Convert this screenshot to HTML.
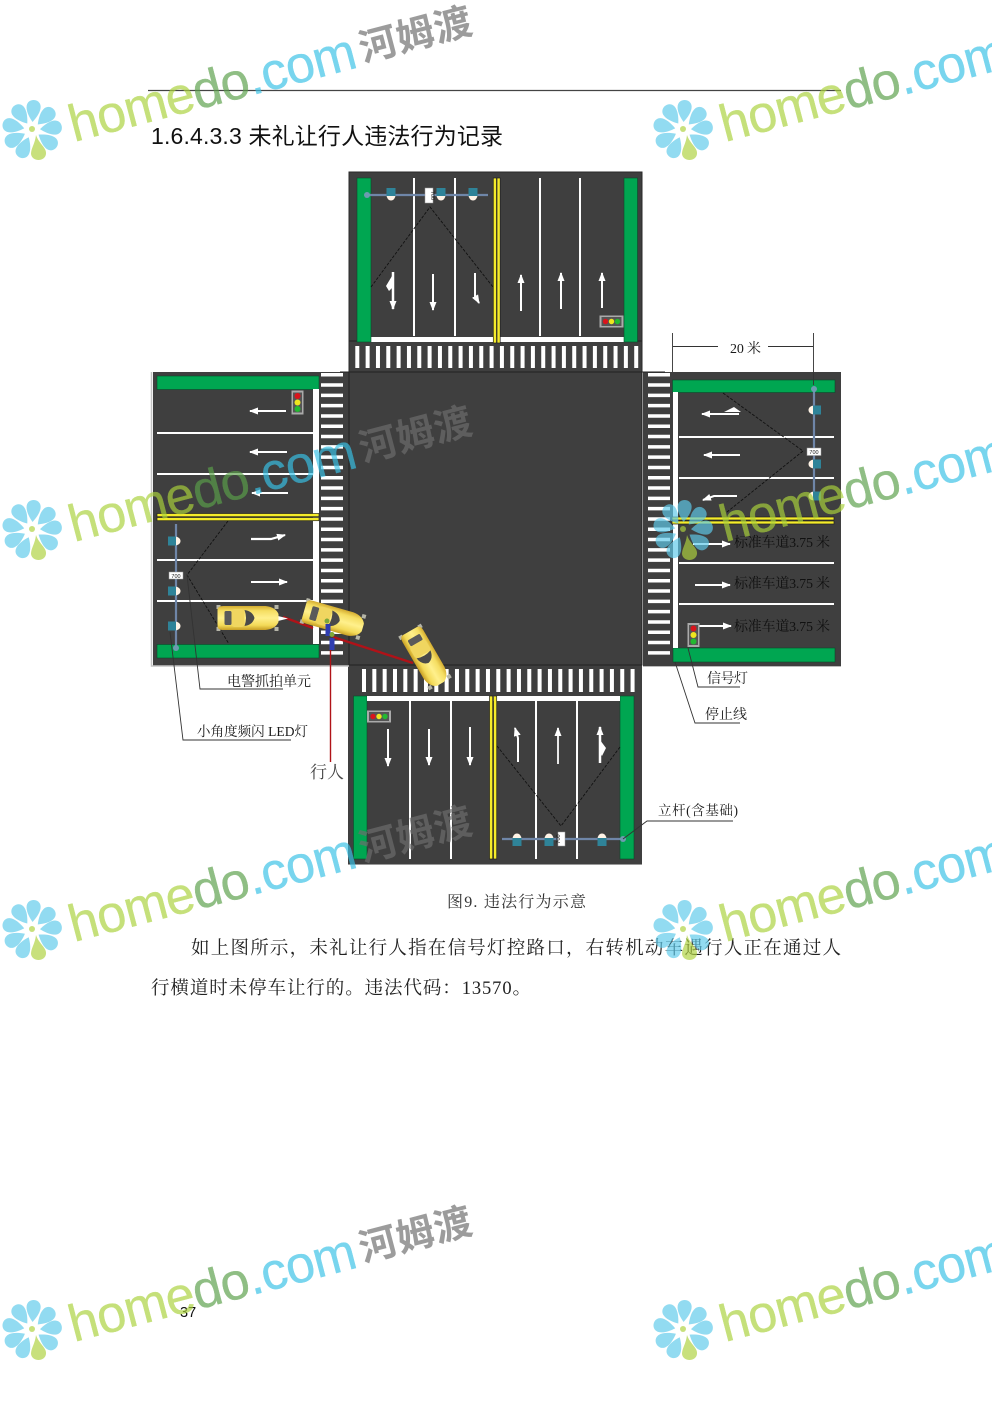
<!DOCTYPE html>
<html lang="zh"><head><meta charset="utf-8"><title>未礼让行人违法行为记录</title>
<style>
html,body{margin:0;padding:0;background:#fff}
svg{display:block}
.s{font-family:"Liberation Serif","Noto Serif CJK SC",serif;fill:#1a1a1a}
.h{font-family:"Liberation Sans","Noto Sans CJK SC",sans-serif;fill:#111}
.wm{font-family:"Liberation Sans",sans-serif;font-size:52px;stroke-width:.4}
.wm .l{fill:#aad23c;stroke:#aad23c}
.wm .g{fill:#5ba04a;stroke:#5ba04a}
.wm .c{fill:#38c1e6;stroke:#38c1e6}
.wc{font-family:"Liberation Sans","Noto Sans CJK SC",sans-serif;font-size:38px;font-weight:700;fill:#6e6e6e}
</style></head><body>
<svg xmlns="http://www.w3.org/2000/svg" width="992" height="1403" viewBox="0 0 992 1403">
<defs>
<marker id="a" viewBox="0 0 9 7" markerUnits="userSpaceOnUse" markerWidth="9" markerHeight="7" refX="8" refY="3.5" orient="auto"><path d="M0 0L9 3.5L0 7Z" fill="#fff"/></marker>
<linearGradient id="cg" x1="0" y1="0" x2="0" y2="1"><stop offset="0" stop-color="#d4ac30"/><stop offset=".2" stop-color="#f5de62"/><stop offset=".5" stop-color="#fff08c"/><stop offset=".8" stop-color="#f3da58"/><stop offset="1" stop-color="#c79e24"/></linearGradient>
<g id="car">
<g fill="#b5b5a8"><rect x="-31" y="-13" width="4" height="4"/><rect x="27" y="-13" width="4" height="4"/><rect x="-31" y="9" width="4" height="4"/><rect x="27" y="9" width="4" height="4"/></g>
<path d="M-30-8Q-30-12-24-12H18Q28-11 31-4V4Q28 11 18 12H-24Q-30 12-30 8Z" fill="url(#cg)"/>
<rect x="-23" y="-7" width="7" height="14" rx="1.500" fill="#5a5a5a"/>
<path d="M-3-8Q5-7 7 0Q5 7-3 8Q0 0-3-8Z" fill="#4a4a4a"/>
<rect x="-16" y="-9" width="13" height="18" rx="3" fill="#f0d660"/>
</g>
<g id="lamp"><path d="M-4.500 0a4.500 5.500 0 0 0 9 0Z" fill="#fff3e6"/><rect x="-4.500" y="-7" width="9" height="8" fill="#2f8398"/></g>
<g id="tlh"><rect x="-12" y="-6" width="24" height="12" fill="#aaa"/><rect x="-10" y="-4.500" width="20" height="9" fill="#555"/><circle cx="-6" r="2.700" fill="#d9141c"/><circle r="2.700" fill="#efe51f"/><circle cx="6" r="2.700" fill="#23b931"/></g>
<g id="tlv"><rect x="-6" y="-12" width="12" height="24" fill="#aaa"/><rect x="-4.500" y="-10" width="9" height="20" fill="#555"/><circle cy="-6.500" r="3" fill="#d9141c"/><circle r="3" fill="#efe51f"/><circle cy="6.500" r="3" fill="#23b931"/></g>
<path id="pt" d="M0-8C-4-13-7.500-19-7-24C-6-32 6-32 7-24C7.500-19 4-13 0-8Z"/>
<g id="fl">
<g fill="#5fcbea">
<use href="#pt" transform="rotate(4)"/><use href="#pt" transform="rotate(46)"/><use href="#pt" transform="rotate(84)"/><use href="#pt" transform="rotate(125)"/><use href="#pt" transform="rotate(204)"/><use href="#pt" transform="rotate(242)"/><use href="#pt" transform="rotate(282)"/><use href="#pt" transform="rotate(324)"/>
</g>
<path d="M4 5C7 14 15 18 14 24C13 32 0 32-1 24C-1 18 3 14 4 5Z" fill="#aed23f"/>
<circle cx="0" cy="-1" r="3" fill="#aed23f"/>
</g>
</defs>

<rect width="992" height="1403" fill="#fff"/>
<line x1="148" y1="90.500" x2="841" y2="90.500" stroke="#444" stroke-width="1.200"/>
<text class="h" x="151" y="144" font-size="23" textLength="352" lengthAdjust="spacing">1.6.4.3.3 未礼让行人违法行为记录</text>

<!-- roads -->
<rect x="349" y="172" width="293" height="200" fill="#3f3f3f" stroke="#2a2a2a" stroke-width="1"/>
<rect x="153" y="372" width="196" height="294" fill="#3f3f3f"/>
<rect x="349" y="372" width="293" height="294" fill="#3f3f3f"/>
<rect x="643" y="372" width="198" height="294" fill="#3f3f3f"/>
<rect x="348" y="666" width="294" height="198" fill="#3f3f3f"/>
<path d="M349 372H642V665H349Z" fill="none" stroke="#222" stroke-width="1"/>
<path d="M340 372H349M642 372H665M349 341H642M349 665H642" stroke="#222" stroke-width="1" fill="none"/>
<path d="M151.500 372V666H349" fill="none" stroke="#c4c4c4" stroke-width="1.500"/>
<path d="M643 666.500H841" fill="none" stroke="#bbb" stroke-width="1"/>
<path d="M348 864.500H642" fill="none" stroke="#999" stroke-width="1"/>

<!-- crosswalks -->
<g stroke="#fff" fill="none">
<line x1="355.300" y1="357" x2="640" y2="357" stroke-width="22" stroke-dasharray="4 6.330"/>
<line x1="362" y1="680.500" x2="636" y2="680.500" stroke-width="23" stroke-dasharray="4 6.330"/>
<line x1="332" y1="373" x2="332" y2="657" stroke-width="22" stroke-dasharray="3.500 6.800"/>
<line x1="659" y1="373" x2="659" y2="658" stroke-width="22" stroke-dasharray="3.500 6.800"/>
</g>

<!-- top arm -->
<rect x="371" y="337" width="253" height="5" fill="#fff"/>
<g fill="#00a651" stroke="#0a4a2a" stroke-width=".6">
<rect x="357" y="178" width="14" height="164"/><rect x="624" y="178" width="13.500" height="164"/>
<rect x="157" y="376" width="162" height="13.500"/><rect x="157" y="644.500" width="162" height="13.500"/>
<rect x="672.500" y="380" width="162.500" height="12.500"/><rect x="673" y="648" width="162" height="14"/>
<rect x="353.500" y="696" width="13.500" height="163"/><rect x="620" y="696" width="14" height="163"/>
</g>
<g stroke="#fff" stroke-width="2" fill="none">
<path d="M414 178V336M455 178V336M540 178V336M580 178V336"/>
<path d="M157 433H313M157 474H313M157 560H313M157 601H313"/>
<path d="M679 437H834M679 478H834M679 563H834M679 604H834"/>
<path d="M410 701V859M451 701V859M536 701V859M577 701V859"/>
</g>
<rect x="313" y="389" width="6" height="255" fill="#fff"/>
<rect x="673" y="392" width="5" height="256" fill="#fff"/>
<rect x="367" y="696" width="253" height="5" fill="#fff"/>
<!-- yellow lines -->
<g fill="#f5ec2a" stroke="#222" stroke-width=".7">
<rect x="493.300" y="178" width="3.200" height="165"/><rect x="497" y="178" width="3.200" height="165"/>
<rect x="489.500" y="696" width="3.200" height="163"/><rect x="493.500" y="696" width="3.200" height="163"/>
<rect x="157" y="513.500" width="162" height="3.200"/><rect x="157" y="517.500" width="162" height="3.200"/>
<rect x="672" y="517" width="162" height="3"/><rect x="672" y="521" width="162" height="3"/>
</g>

<!-- lane arrows -->
<g stroke="#fff" stroke-width="2" fill="none">
<line x1="393" y1="272" x2="393" y2="309" stroke-width="2.500" marker-end="url(#a)"/>
<line x1="433" y1="274" x2="433" y2="310" marker-end="url(#a)"/>
<path d="M475 273V296L479 303" marker-end="url(#a)"/>
<line x1="521" y1="311" x2="521" y2="275" marker-end="url(#a)"/>
<line x1="561" y1="309" x2="561" y2="273" marker-end="url(#a)"/>
<line x1="602" y1="308" x2="602" y2="273" marker-end="url(#a)"/>
<line x1="286" y1="411" x2="250" y2="411" marker-end="url(#a)"/>
<line x1="287" y1="452" x2="250" y2="452" marker-end="url(#a)"/>
<line x1="288" y1="493" x2="252" y2="493" marker-end="url(#a)"/>
<path d="M251 539H271L285 535" stroke-width="2.200" marker-end="url(#a)"/>
<line x1="251" y1="582" x2="287" y2="582" marker-end="url(#a)"/>
<line x1="739" y1="414" x2="702" y2="414" marker-end="url(#a)"/>
<line x1="740" y1="455" x2="704" y2="455" marker-end="url(#a)"/>
<path d="M737 496H714L703 500" marker-end="url(#a)"/>
<line x1="693" y1="544" x2="730" y2="544" marker-end="url(#a)"/>
<line x1="695" y1="585" x2="730" y2="585" marker-end="url(#a)"/>
<line x1="698" y1="626" x2="731" y2="626" marker-end="url(#a)"/>
<line x1="388" y1="729" x2="388" y2="766" marker-end="url(#a)"/>
<line x1="429" y1="729" x2="429" y2="765" marker-end="url(#a)"/>
<line x1="470" y1="727" x2="470" y2="765" marker-end="url(#a)"/>
<path d="M518 762V738L515 728" marker-end="url(#a)"/>
<line x1="558" y1="764" x2="558" y2="728" stroke="#e8e8e8" marker-end="url(#a)"/>
<line x1="600" y1="763" x2="600" y2="727" stroke-width="2.500" marker-end="url(#a)"/>
</g>
<g fill="#fff">
<path d="M392 276L386 286L389 291L392 288Z"/>
<path d="M600 740L606 748L602 756L600 753Z"/>
<path d="M724 412L734 407L741 412Z"/>
</g>

<!-- dashed camera lines -->
<g stroke="#111" stroke-width=".9" fill="none" stroke-dasharray="3 1.500">
<path d="M371 287L430 207L493 287"/>
<path d="M497 746L561 826L620 747"/>
<path d="M723 393L803 451L727 512"/>
<path d="M228 521L187 575L229 644"/>
</g>

<!-- poles -->
<g stroke="#6f86a8" stroke-width="2.200" fill="none">
<line x1="367" y1="195" x2="488" y2="195"/>
<line x1="176" y1="524" x2="176" y2="648"/>
<line x1="814" y1="389" x2="814" y2="500"/>
<line x1="502" y1="839" x2="623" y2="839"/>
</g>
<g fill="#6d9bb0">
<circle cx="367" cy="195" r="3"/><circle cx="176" cy="648" r="3"/><circle cx="814" cy="389" r="3"/><circle cx="623" cy="839" r="3"/>
</g>
<use href="#lamp" transform="translate(391,195)"/><use href="#lamp" transform="translate(441,195)"/><use href="#lamp" transform="translate(473,195)"/>
<use href="#lamp" transform="translate(517,839) rotate(180)"/><use href="#lamp" transform="translate(549,839) rotate(180)"/><use href="#lamp" transform="translate(602,839) rotate(180)"/>
<use href="#lamp" transform="translate(175,541) rotate(-90)"/><use href="#lamp" transform="translate(175,591) rotate(-90)"/><use href="#lamp" transform="translate(175,626) rotate(-90)"/>
<use href="#lamp" transform="translate(814,410) rotate(90)"/><use href="#lamp" transform="translate(814,464) rotate(90)"/><use href="#lamp" transform="translate(814,496) rotate(90)"/>
<!-- signs -->
<g fill="#fff" stroke="#999" stroke-width=".5">
<rect x="425" y="188" width="8" height="15"/><rect x="558" y="832" width="7" height="14"/>
<rect x="169" y="572" width="14" height="7"/><rect x="807" y="448" width="14" height="7.500"/>
</g>
<g class="h" font-size="5.500" style="fill:#222" text-anchor="middle">
<text x="0" y="0" transform="translate(431,195.500) rotate(90)" text-anchor="middle">700</text>
<text x="0" y="0" transform="translate(560,839) rotate(-90)" text-anchor="middle">700</text>
<text x="176" y="577.800">700</text><text x="814" y="453.800">700</text>
</g>
<!-- signals -->
<use href="#tlh" transform="translate(611.500,321.500)"/>
<use href="#tlv" transform="translate(297.500,402.500)"/>
<use href="#tlv" transform="translate(693.500,635)"/>
<use href="#tlh" transform="translate(379,716.500)"/>

<!-- red sight lines -->
<g fill="none" stroke="#b01218" stroke-width="2.400">
<path d="M283 617L313 628"/>
<path d="M333 637L413 663"/>
<line x1="330.500" y1="645" x2="330.500" y2="762" stroke-width="1.400"/>
</g>
<path d="M278 616L288 618.500L278 621Z" fill="#fff"/>
<!-- cars -->
<use href="#car" transform="translate(247.500,618)"/>
<use href="#car" transform="translate(333,619) rotate(16)"/>
<use href="#car" transform="translate(425,657) rotate(60)"/>
<!-- pedestrians -->
<g>
<rect x="325.500" y="624" width="5" height="12" fill="#2f3db0"/><circle cx="327" cy="621" r="2.500" fill="#7ea83a"/>
<rect x="329.500" y="638" width="5" height="12" fill="#2f3db0"/><circle cx="332" cy="634.500" r="2.500" fill="#7ea83a"/>
</g>

<!-- callouts -->
<g fill="none" stroke="#333" stroke-width=".9">
<path d="M672.500 333V372M813.500 333V385"/>
<path d="M673 346.500H718M768 346.500H813"/>
<path d="M187 575L200 689H283"/>
<path d="M170 632L183 740H291"/>
<path d="M688 648L698 687H740"/>
<path d="M675 662L695 723H740"/>
<path d="M623 839L647 821H733"/>
</g>
<g class="s">
<text x="730" y="353" font-size="14" textLength="31">20 米</text>
<text x="227" y="686" font-size="14" textLength="84">电警抓拍单元</text>
<text x="197" y="736" font-size="13.500" textLength="111">小角度频闪 LED灯</text>
<text x="310" y="778" font-size="17" style="fill:#444" textLength="34">行人</text>
<text x="707" y="683" font-size="14" textLength="41">信号灯</text>
<text x="705" y="719" font-size="14" textLength="42">停止线</text>
<text x="658" y="815" font-size="13.500" textLength="80">立杆(含基础)</text>
<text x="734" y="547" font-size="14" style="fill:#111" textLength="96">标准车道3.75 米</text>
<text x="734" y="588" font-size="14" style="fill:#111" textLength="96">标准车道3.75 米</text>
<text x="734" y="631" font-size="14" style="fill:#111" textLength="96">标准车道3.75 米</text>
<text x="447" y="907" font-size="16" style="fill:#333" textLength="139">图9. 违法行为示意</text>
<text x="191" y="954" font-size="18.500" style="fill:#222" textLength="650">如上图所示，未礼让行人指在信号灯控路口，右转机动车遇行人正在通过人</text>
<text x="151" y="994" font-size="18.500" style="fill:#222" textLength="380">行横道时未停车让行的。违法代码：13570。</text>
</g>
<text class="h" x="180" y="1317" font-size="14.500">37</text>

<!-- watermarks -->
<g opacity=".68">
<use href="#fl" transform="translate(32,130)"/>
<text class="wm" x="0" y="0" transform="translate(74,142) rotate(-14.700)" textLength="295"><tspan class="l">home</tspan><tspan class="g">do</tspan><tspan class="c">.com</tspan></text>
<text class="wc" x="0" y="0" transform="translate(363,62) rotate(-14.700)" textLength="115">河姆渡</text>
<use href="#fl" transform="translate(683,130)"/>
<text class="wm" x="0" y="0" transform="translate(725,142) rotate(-14.700)" textLength="295"><tspan class="l">home</tspan><tspan class="g">do</tspan><tspan class="c">.com</tspan></text>

<use href="#fl" transform="translate(32,530)"/>
<text class="wm" x="0" y="0" transform="translate(74,542) rotate(-14.700)" textLength="295"><tspan class="l">home</tspan><tspan class="g">do</tspan><tspan class="c">.com</tspan></text>
<text class="wc" x="0" y="0" transform="translate(363,462) rotate(-14.700)" textLength="115">河姆渡</text>
<use href="#fl" transform="translate(683,530)"/>
<text class="wm" x="0" y="0" transform="translate(725,542) rotate(-14.700)" textLength="295"><tspan class="l">home</tspan><tspan class="g">do</tspan><tspan class="c">.com</tspan></text>

<use href="#fl" transform="translate(32,930)"/>
<text class="wm" x="0" y="0" transform="translate(74,942) rotate(-14.700)" textLength="295"><tspan class="l">home</tspan><tspan class="g">do</tspan><tspan class="c">.com</tspan></text>
<text class="wc" x="0" y="0" transform="translate(363,862) rotate(-14.700)" textLength="115">河姆渡</text>
<use href="#fl" transform="translate(683,930)"/>
<text class="wm" x="0" y="0" transform="translate(725,942) rotate(-14.700)" textLength="295"><tspan class="l">home</tspan><tspan class="g">do</tspan><tspan class="c">.com</tspan></text>

<use href="#fl" transform="translate(32,1330)"/>
<text class="wm" x="0" y="0" transform="translate(74,1342) rotate(-14.700)" textLength="295"><tspan class="l">home</tspan><tspan class="g">do</tspan><tspan class="c">.com</tspan></text>
<text class="wc" x="0" y="0" transform="translate(363,1262) rotate(-14.700)" textLength="115">河姆渡</text>
<use href="#fl" transform="translate(683,1330)"/>
<text class="wm" x="0" y="0" transform="translate(725,1342) rotate(-14.700)" textLength="295"><tspan class="l">home</tspan><tspan class="g">do</tspan><tspan class="c">.com</tspan></text>
</g>
</svg>
</body></html>
